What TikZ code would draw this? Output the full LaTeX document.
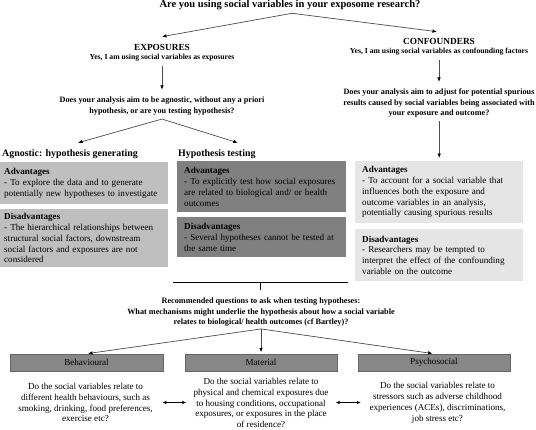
\documentclass[tikz,border=0pt]{standalone}
\usepackage{fontspec}
\setmainfont{Liberation Serif}
\usetikzlibrary{calc,arrows.meta}

\definecolor{agnfill}{gray}{0.75}
\definecolor{hypfill}{gray}{0.5}
\definecolor{conffill}{gray}{0.9}
\definecolor{mechfill}{gray}{0.53}
\definecolor{mechline}{gray}{0.4}
\definecolor{arrline}{gray}{0.3}

\begin{document}
\begin{tikzpicture}[x=1pt,y=-1pt,
    arr/.style={draw=arrline, line width=0.7pt, -{Latex[black,length=4.5pt,width=3.6pt]}},
    dblarr/.style={draw=black, line width=0.7pt, {Latex[length=4pt,width=3.6pt]}-{Latex[length=4pt,width=3.6pt]}},
    bracket/.style={draw=black, line width=1.4pt},
    head/.style={inner sep=0pt, font=\fontsize{9.3}{11}\selectfont\bfseries},
    yesline/.style={inner sep=0pt, font=\fontsize{7.7}{9}\selectfont\bfseries},
    question/.style={inner sep=0pt, align=center, font=\fontsize{8.2}{10.2}\selectfont\bfseries},
    sect/.style={inner sep=0pt, anchor=west, font=\fontsize{9.9}{11}\selectfont\bfseries},
    infobox/.style={anchor=north west, inner xsep=7pt, inner ysep=0pt, align=left,
        font=\fontsize{9.1}{10.8}\selectfont},
    mech/.style={fill=mechfill, draw=mechline, line width=0.5pt, inner sep=0pt,
        minimum height=17pt, font=\fontsize{9.1}{10}\selectfont},
    mechq/.style={inner sep=0pt, align=center, font=\fontsize{9.1}{10.9}\selectfont}
]
\useasboundingbox (0,0) rectangle (536,429);

% вопрос сверху
\node[inner sep=0pt, font=\fontsize{10.5}{12}\selectfont\bfseries] (title) at (290,5)
    {Are you using social variables in your exposome research?};
\coordinate (fork1) at ([shift={(2pt,-3.3pt)}]title.south);

% левая ветка
\node[head] (expo) at (162,47) {EXPOSURES};
\node[yesline] (expoyes) at (162,58) {Yes, I am using social variables as exposures};
\node[question] (expoq) at (162,106)
    {Does your analysis aim to be agnostic, without any a priori\\hypothesis, or are you testing hypothesis?};
\coordinate (fork2) at ([yshift=-4pt]expoq.south);

\node[sect] (agn) at (2,154) {Agnostic: hypothesis generating};
\node[sect] (hyp) at (178,154) {Hypothesis testing};

\node[infobox, fill=agnfill, minimum width=171pt, minimum height=42pt, text width=157pt] (agnadv) at (-3,162)
    {\textbf{Advantages}\\- To explore the data and to generate\\potentially new hypotheses to investigate};
\node[infobox, fill=agnfill, minimum width=171pt, minimum height=58pt, text width=157pt] (agndis) at (-3,209)
    {\textbf{Disadvantages}\\- The hierarchical relationships between\\structural social factors, downstream\\social factors and exposures are not\\considered};
\node[infobox, fill=hypfill, minimum width=169pt, minimum height=51pt, text width=155pt] (hypadv) at (177,161)
    {\textbf{Advantages}\\- To explicitly test how social exposures\\are related to biological and/ or health\\outcomes};
\node[infobox, fill=hypfill, minimum width=169pt, minimum height=40pt, text width=155pt] (hypdis) at (177,217)
    {\textbf{Disadvantages}\\- Several hypotheses cannot be tested at\\the same time};

% правая ветка
\node[head] (conf) at (439,41) {CONFOUNDERS};
\node[yesline] (confyes) at (439,52) {Yes, I am using social variables as confounding factors};
\node[question] (confq) at (439,103)
    {Does your analysis aim to adjust for potential spurious\\results caused by social variables being associated with\\your exposure and outcome?};

\node[infobox, fill=conffill, minimum width=168pt, minimum height=62pt, text width=154pt] (confadv) at (355,161)
    {\textbf{Advantages}\\- To account for a social variable that\\influences both the exposure and\\outcome variables in an analysis,\\potentially causing spurious results};
\node[infobox, fill=conffill, minimum width=168pt, minimum height=52pt, text width=154pt] (confdis) at (355,229)
    {\textbf{Disadvantages}\\- Researchers may be tempted to\\interpret the effect of the confounding\\variable on the outcome};

% механизмы
\node[question, font=\fontsize{8.2}{10.5}\selectfont\bfseries] (recq) at (261,312.5)
    {Recommended questions to ask when testing hypotheses:\\What mechanisms might underlie the hypothesis about how a social variable\\relates to biological/ health outcomes (cf Bartley)?};
\coordinate (fork3) at ([yshift=-2pt]recq.south);

\node[mech, minimum width=153pt] (behav) at (86.5,362.5) {Behavioural};
\node[mech, minimum width=152pt] (mat) at (261,362.5) {Material};
\node[mech, minimum width=152pt] (psy) at (434,362.5) {Psychosocial};

\node[mechq] (behq) at (85.5,402.5)
    {Do the social variables relate to\\different health behaviours, such as\\smoking, drinking, food preferences,\\exercise etc?};
\node[mechq, font=\fontsize{9.1}{10.7}\selectfont] (matq) at (261,403)
    {Do the social variables relate to\\physical and chemical exposures due\\to housing conditions, occupational\\exposures, or exposures in the place\\of residence?};
\node[mechq] (psyq) at (437.5,402.5)
    {Do the social variables relate to\\stressors such as adverse childhood\\experiences (ACEs), discriminations,\\job stress etc?};

% стрелки
\draw[arr] (fork1) -- ([yshift=7pt]expo.north);
\draw[arr] (fork1) -- ([shift={(-2pt,6pt)}]conf.north);
\draw[arr, shorten <=4.5pt, shorten >=7.2pt] (expoyes.south) -- (expoq.north);
\draw[arr, shorten <=4.5pt, shorten >=7pt] (confyes.south) -- (confq.north);
\draw[arr, shorten <=4pt, shorten >=3pt] (confq.south -| confadv.north) -- (confadv.north);
\draw[arr] (fork2) -- ([shift={(8pt,6.5pt)}]agn.north);
\draw[arr] (fork2) -- ([shift={(21pt,6.5pt)}]hyp.north);

\coordinate (brl) at ([shift={(-4pt,-25pt)}]hypdis.south west);
\coordinate (brr) at ([shift={(2pt,-25pt)}]hypdis.south east);
\draw[bracket] (brl) -- (brr);
\draw[bracket] ($(brl)!0.5!(brr)$) -- ++(0,8);

\draw[arr, shorten >=1.5pt] (fork3) -- (behav.north);
\draw[arr, shorten >=1.5pt] (fork3) -- (mat.north);
\draw[arr, shorten >=1.5pt] (fork3) -- (psy.north);

\draw[dblarr, shorten <=9.5pt, shorten >=7pt] (behq.east) -- (behq.east -| matq.west);
\draw[dblarr, shorten <=7pt, shorten >=8.5pt] (behq.east -| matq.east) -- (behq.east -| psyq.west);
\end{tikzpicture}
\end{document}
